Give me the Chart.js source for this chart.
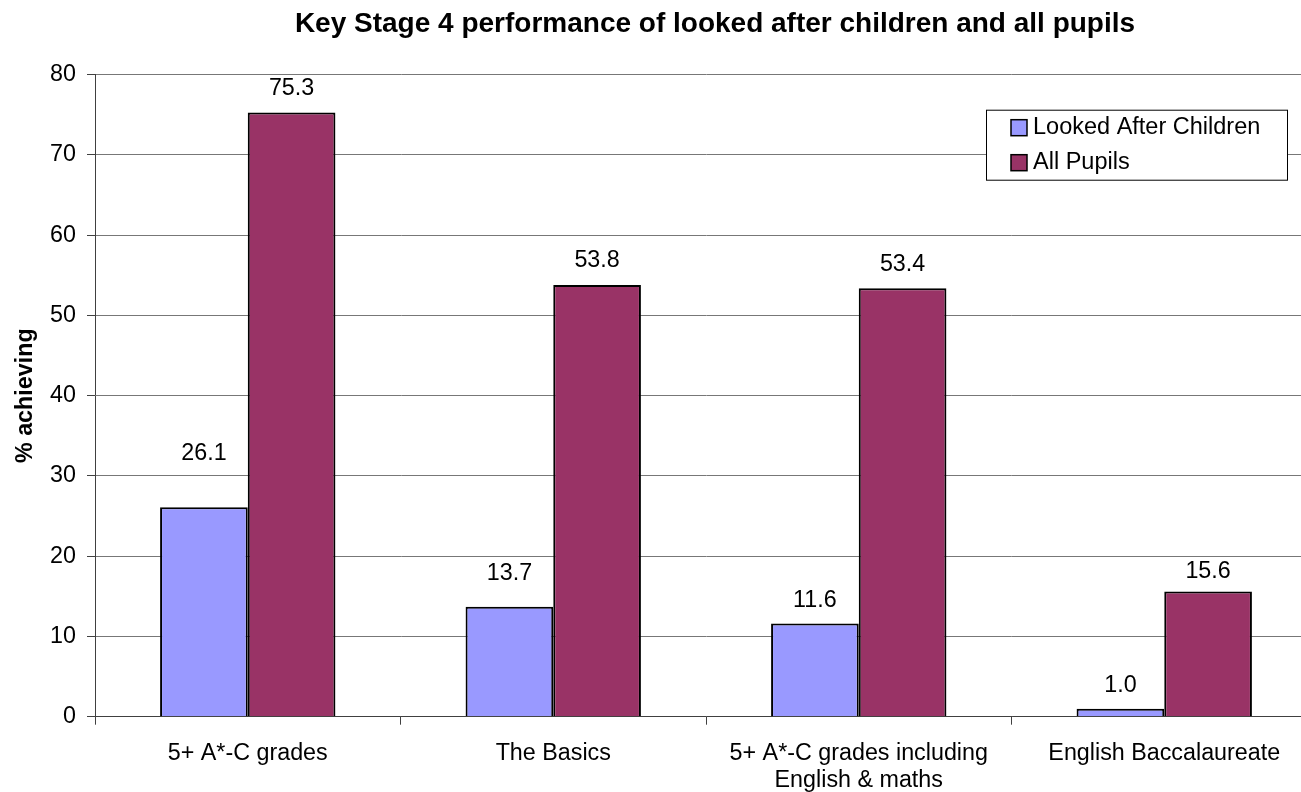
<!DOCTYPE html>
<html>
<head>
<meta charset="utf-8">
<title>Key Stage 4 performance</title>
<script src="https://cdn.jsdelivr.net/npm/chart.js@4.4.0/dist/chart.umd.min.js"></script>
<style>
  html, body { margin: 0; padding: 0; background: #fff; overflow: hidden; }
  #wrap { width: 1317px; height: 792px; }
</style>
</head>
<body>
<div id="wrap"><canvas id="ks4Chart" width="1317" height="792"></canvas></div>
<script>
const categories = [
  '5+ A*-C grades',
  'The Basics',
  ['5+ A*-C grades including', 'English & maths'],
  'English Baccalaureate'
];
const lookedAfter = [26.1, 13.7, 11.6, 1.0];
const allPupils = [75.3, 53.8, 53.4, 15.6];
const yTicks = [0, 10, 20, 30, 40, 50, 60, 70, 80];

const FONT = '"Liberation Sans", Arial, sans-serif';
const chartTitle = 'Key Stage 4 performance of looked after children and all pupils';

// how far above each bar its value sits (px), per dataset
const labelLift = [[54, 33, 23, 23], [24, 24, 24, 20]];

const titlePlugin = {
  id: 'topTitle',
  afterDraw(chart) {
    const { ctx, chartArea } = chart;
    ctx.save();
    ctx.font = 'bold 28px ' + FONT;
    ctx.fillStyle = '#000';
    ctx.textAlign = 'center';
    ctx.textBaseline = 'middle';
    ctx.fillText(chartTitle, (chartArea.left + chartArea.right) / 2 + 9, 24);
    ctx.restore();
  }
};

const valueLabels = {
  id: 'valueLabels',
  afterDatasetsDraw(chart) {
    const { ctx } = chart;
    ctx.save();
    ctx.font = '23.3px ' + FONT;
    ctx.fillStyle = '#000';
    ctx.textAlign = 'center';
    ctx.textBaseline = 'middle';
    chart.data.datasets.forEach((ds, di) => {
      chart.getDatasetMeta(di).data.forEach((bar, i) => {
        ctx.fillText(ds.data[i].toFixed(1), bar.x, bar.y - labelLift[di][i]);
      });
    });
    ctx.restore();
  }
};

const boxLegend = {
  id: 'boxLegend',
  afterDraw(chart) {
    const { ctx, chartArea } = chart;
    const x = chartArea.right - 331, y = chartArea.top + 35;
    const w = 301, h = 70;
    ctx.save();
    ctx.fillStyle = '#fff';
    ctx.fillRect(x, y, w, h);
    ctx.strokeStyle = '#000';
    ctx.lineWidth = 1;
    ctx.strokeRect(x + 0.5, y + 0.5, w, h);
    ctx.font = '23.5px ' + FONT;
    ctx.textBaseline = 'middle';
    chart.data.datasets.forEach((ds, i) => {
      const cy = y + 18 + i * 35;
      ctx.fillStyle = ds.backgroundColor;
      ctx.fillRect(x + 25, cy - 8, 16, 16);
      ctx.strokeStyle = '#000';
      ctx.lineWidth = 1.5;
      ctx.strokeRect(x + 25, cy - 8, 16, 16);
      ctx.fillStyle = '#000';
      ctx.fillText(ds.label, x + 47, cy);
    });
    ctx.restore();
  }
};

new Chart(document.getElementById('ks4Chart'), {
  type: 'bar',
  data: {
    labels: categories,
    datasets: [
      {
        label: 'Looked After Children',
        data: lookedAfter,
        backgroundColor: '#9999FF',
        borderColor: '#000',
        borderWidth: 2
      },
      {
        label: 'All Pupils',
        data: allPupils,
        backgroundColor: '#993366',
        borderColor: '#000',
        borderWidth: 2
      }
    ]
  },
  options: {
    responsive: false,
    animation: false,
    layout: { padding: { top: 74.7, right: 0, bottom: 0, left: 0 } },
    datasets: { bar: { categoryPercentage: 0.574, barPercentage: 1.0 } },
    plugins: {
      legend: { display: false },
      title: { display: false },
      tooltip: { enabled: false }
    },
    scales: {
      x: {
        grid: {
          offset: true,
          drawOnChartArea: false,
          drawTicks: true,
          tickLength: 8,
          color: '#404040'
        },
        border: { color: '#404040', width: 1 },
        ticks: {
          color: '#000',
          font: { family: FONT, size: 23.3, lineHeight: 1.14 },
          padding: 16,
          maxRotation: 0,
          autoSkip: false
        },
        afterFit(scale) { scale.height = 75.3; }
      },
      y: {
        min: 0,
        max: 80,
        afterBuildTicks(scale) { scale.ticks = yTicks.map(v => ({ value: v })); },
        grid: {
          color: '#777777',
          tickLength: 8,
          tickColor: '#404040'
        },
        border: { color: '#404040', width: 1 },
        ticks: {
          color: '#000',
          font: { family: FONT, size: 23.3 },
          padding: 11
        },
        title: {
          display: true,
          text: '% achieving',
          color: '#000',
          font: { family: FONT, size: 23.3, weight: 'bold' },
          padding: { top: 12, bottom: 0 }
        },
        afterFit(scale) { scale.width = 95; }
      }
    }
  },
  plugins: [valueLabels, boxLegend, titlePlugin]
});
</script>
</body>
</html>
